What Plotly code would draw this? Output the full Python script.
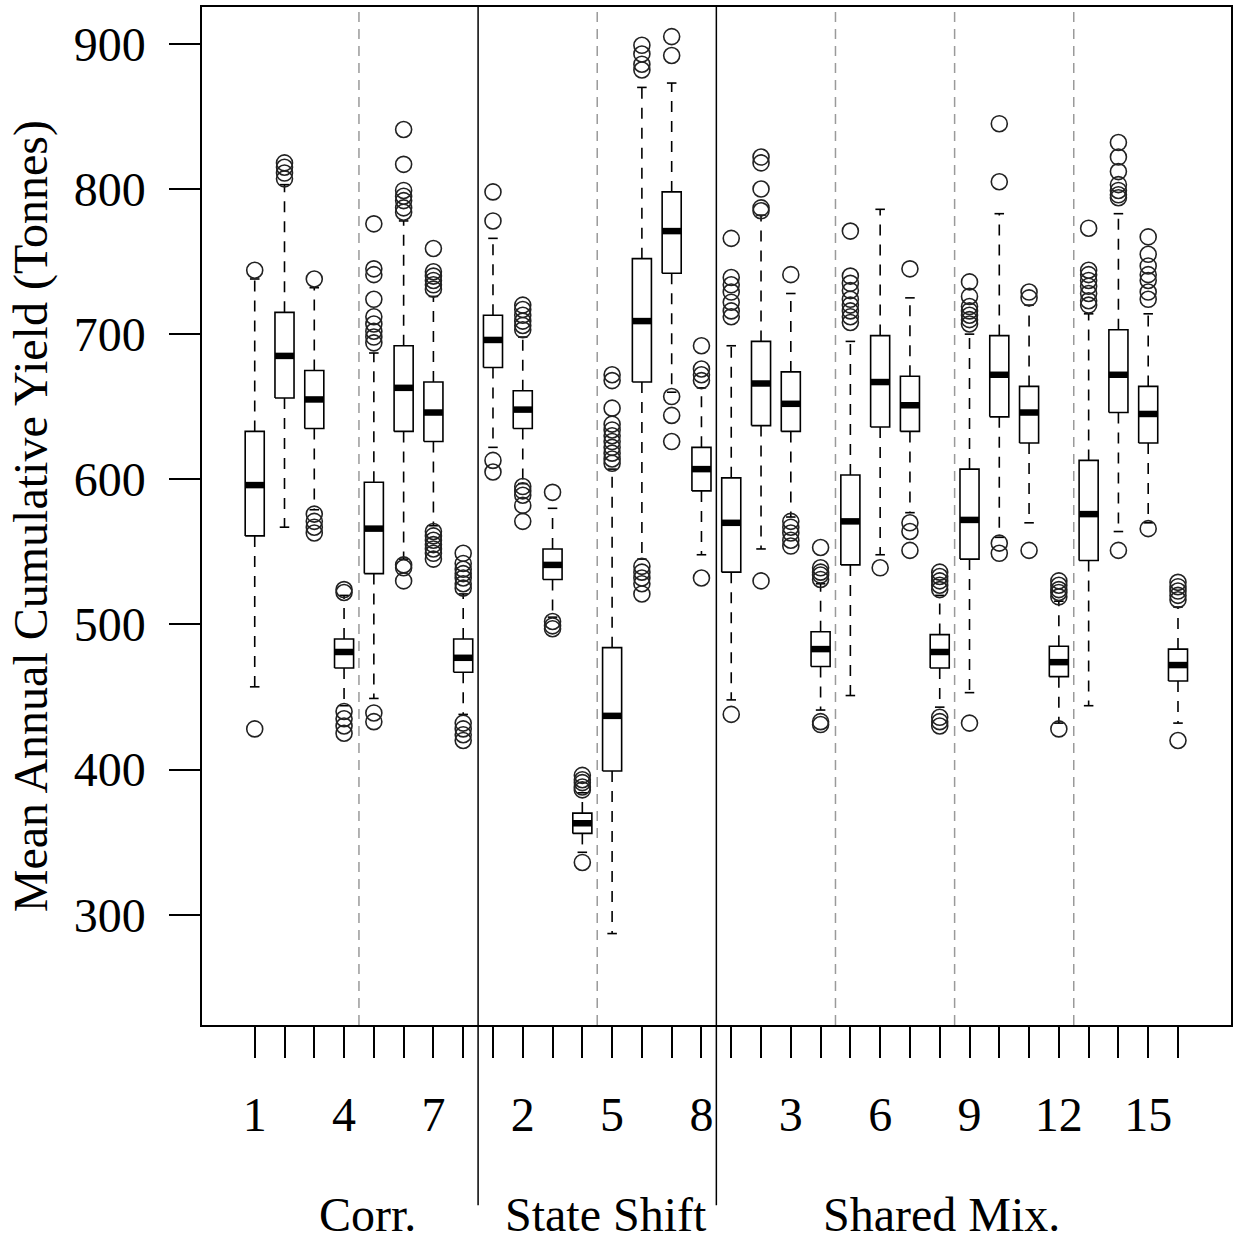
import plotly.graph_objects as go

# ---------------- data ----------------
groups = ["Corr.", "State Shift", "Shared Mix."]
group_sizes = [8, 8, 16]
scenario_labels = ([str(i) for i in range(1, 9)] + [str(i) for i in range(1, 9)]
                   + [str(i) for i in range(1, 17)])

lower_whisker = [457, 567, 579, 444, 449, 545, 568, 438,
                 622, 597, 505, 343, 287, 545, 660, 548,
                 448, 552, 574, 441, 451, 548, 577, 443,
                 453, 560, 570, 432, 444, 564, 570, 432]
q1 = [561, 656, 635, 470, 535, 633, 626, 467,
      677, 635, 531, 356, 399, 667, 742, 592,
      536, 637, 633, 471, 541, 636, 633, 470,
      545, 643, 625, 464, 544, 646, 625, 461]
median = [596, 685, 655, 481, 566, 663, 646, 477,
          696, 648, 541, 363, 437, 709, 771, 607,
          570, 666, 652, 483, 571, 667, 651, 481,
          572, 672, 646, 474, 576, 672, 645, 472]
q3 = [633, 715, 675, 490, 598, 692, 667, 490,
      713, 661, 552, 370, 484, 752, 798, 622,
      601, 695, 674, 495, 603, 699, 671, 493,
      607, 699, 664, 485, 613, 703, 664, 483]
upper_whisker = [738, 803, 732, 520, 687, 778, 726, 521,
                 766, 698, 580, 384, 607, 870, 873, 663,
                 692, 782, 728, 528, 695, 786, 725, 520,
                 700, 783, 720, 516, 714, 783, 714, 512]
outliers = [
    [744, 428],
    [818, 815, 811, 807],
    [738, 576, 571, 567, 563],
    [524, 522, 440, 435, 430, 425],
    [776, 745, 741, 724, 712, 707, 702, 698, 694, 439, 433],
    [841, 817, 799, 795, 792, 787, 784, 541, 539, 530],
    [759, 743, 740, 737, 734, 731, 564, 561, 558, 555, 552, 549, 545],
    [549, 542, 538, 535, 532, 528, 525, 432, 428, 424, 420],
    [798, 778, 613, 605],
    [720, 717, 713, 709, 706, 703, 595, 592, 589, 582, 571],
    [591, 502, 499, 497],
    [396, 393, 391, 388, 386, 336],
    [672, 668, 649, 638, 634, 630, 626, 622, 618, 614, 611],
    [899, 893, 886, 882, 540, 536, 532, 528, 521],
    [905, 892, 657, 644, 626],
    [692, 676, 672, 668, 532],
    [766, 739, 734, 729, 722, 716, 712, 438],
    [822, 818, 800, 787, 785, 530],
    [741, 571, 567, 563, 558, 554],
    [553, 539, 536, 534, 531, 433, 431],
    [771, 740, 735, 730, 724, 720, 716, 712, 708],
    [539],
    [745, 570, 564, 551],
    [536, 533, 530, 527, 524, 436, 433, 430],
    [736, 726, 719, 716, 713, 710, 707, 432],
    [845, 805, 556, 549],
    [729, 725, 551],
    [530, 527, 524, 522, 519, 428],
    [773, 744, 741, 737, 733, 728, 723, 720],
    [832, 822, 812, 803, 799, 796, 794, 551],
    [767, 755, 747, 741, 737, 729, 724, 566],
    [529, 526, 523, 520, 517, 420],
]
y_ticks = [300, 400, 500, 600, 700, 800, 900]

# ---------------- geometry / style ----------------
FONT = "Liberation Serif"
FS = 48
positions = list(range(1, len(median) + 1))
half_w = 0.32
cap_w = 0.16

box_x, box_y = [], []
med_x, med_y = [], []
wh_x, wh_y = [], []
cap_x, cap_y = [], []
out_x, out_y = [], []
for i, p in enumerate(positions):
    l, r = p - half_w, p + half_w
    box_x += [l, r, r, l, l, None]
    box_y += [q1[i], q1[i], q3[i], q3[i], q1[i], None]
    med_x += [l, r, None]
    med_y += [median[i], median[i], None]
    wh_x += [p, p, None, p, p, None]
    wh_y += [q3[i], upper_whisker[i], None, q1[i], lower_whisker[i], None]
    cap_x += [p - cap_w, p + cap_w, None, p - cap_w, p + cap_w, None]
    cap_y += [upper_whisker[i], upper_whisker[i], None,
              lower_whisker[i], lower_whisker[i], None]
    for v in outliers[i]:
        out_x.append(p)
        out_y.append(v)

fig = go.Figure()
fig.add_trace(go.Scatter(x=wh_x, y=wh_y, mode="lines",
                         line=dict(color="black", width=1.6, dash="11px,9px"),
                         hoverinfo="skip"))
fig.add_trace(go.Scatter(x=cap_x, y=cap_y, mode="lines",
                         line=dict(color="black", width=1.6), hoverinfo="skip"))
fig.add_trace(go.Scatter(x=box_x, y=box_y, mode="lines", fill="none",
                         line=dict(color="black", width=1.6), hoverinfo="skip"))
fig.add_trace(go.Scatter(x=med_x, y=med_y, mode="lines",
                         line=dict(color="black", width=6.5), hoverinfo="skip"))
fig.add_trace(go.Scatter(x=out_x, y=out_y, mode="markers",
                         marker=dict(symbol="circle-open", size=16,
                                     color="#222", line=dict(width=1.6))))

# separators
shapes = []
start = 0
bounds = []
for n in group_sizes:
    for k in range(4, n, 4):
        shapes.append(dict(type="line", xref="x", yref="paper",
                           x0=start + k + 0.5, x1=start + k + 0.5, y0=0, y1=1,
                           line=dict(color="#9a9a9a", width=1.5, dash="10px,7px")))
    start += n
    bounds.append(start)
for b in bounds[:-1]:
    shapes.append(dict(type="line", xref="x", yref="paper",
                       x0=b + 0.5, x1=b + 0.5, y0=-0.177, y1=1,
                       line=dict(color="black", width=1.5)))

# group labels
group_label_x = [4.8, 12.8, 24.05]
annotations = []
for g, gx in zip(groups, group_label_x):
    annotations.append(dict(text=g, x=gx, xref="x", y=-0.1857, yref="paper",
                            xanchor="center", yanchor="middle", showarrow=False,
                            font=dict(family=FONT, size=FS, color="black")))
annotations.append(dict(text="Mean Annual Cumulative Yield (Tonnes)", textangle=-90,
                        x=-0.166, xref="paper", y=0.5, yref="paper",
                        xanchor="center", yanchor="middle", showarrow=False,
                        font=dict(family=FONT, size=FS, color="black")))

shown_labels = [lab if i % 3 == 0 else "" for i, lab in enumerate(scenario_labels)]

fig.update_layout(
    width=1238, height=1241,
    margin=dict(l=202, r=5, t=7, b=216),
    paper_bgcolor="white", plot_bgcolor="white",
    showlegend=False,
    shapes=shapes, annotations=annotations,
    font=dict(family=FONT, size=FS, color="black"),
    xaxis=dict(range=[-0.77, 33.78], tickmode="array", tickvals=positions,
               ticktext=shown_labels, ticks="outside", ticklen=31, tickwidth=1.5,
               tickcolor="black", showgrid=False, zeroline=False,
               showline=True, linecolor="black", linewidth=1.5, mirror=True,
               ticklabelstandoff=16,
               tickfont=dict(family=FONT, size=FS, color="black")),
    yaxis=dict(range=[224, 925.4], tickmode="array", tickvals=y_ticks,
               ticks="outside", ticklen=31, tickwidth=1.5, tickcolor="black",
               showgrid=False, zeroline=False,
               showline=True, linecolor="black", linewidth=1.5, mirror=True,
               ticklabelstandoff=14,
               tickfont=dict(family=FONT, size=FS, color="black")),
)

fig.write_html("out.html")
